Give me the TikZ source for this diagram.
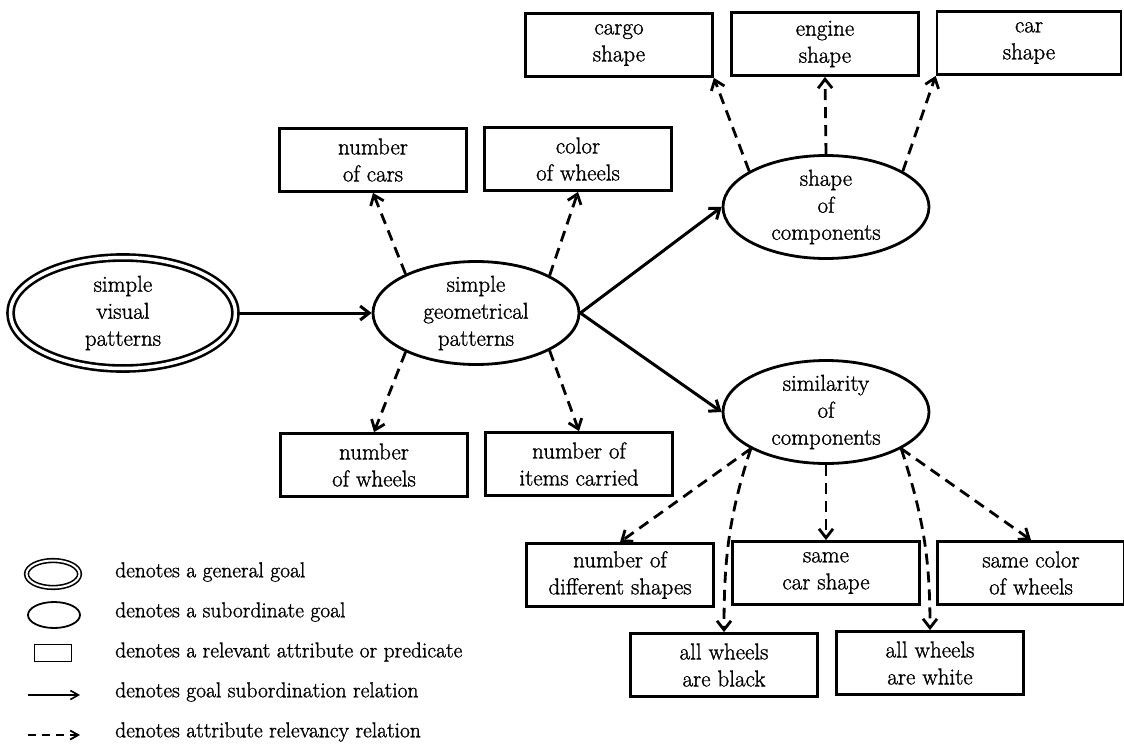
\documentclass[tikz,border=0pt]{standalone}
\usepackage{fontspec}
\newfontfamily\heavyfont{Latin Modern Roman}[FakeBold=1.2]
\usetikzlibrary{shapes.geometric,arrows.meta}
\begin{document}
\begin{tikzpicture}[x=1pt,y=-1pt,
  lbl/.style={font=\heavyfont\fontsize{23}{27}\selectfont, align=center},
  legtext/.style={font=\heavyfont\fontsize{21.5}{27}\selectfont, anchor=west, inner sep=0pt},
  goal/.style={lbl, ellipse, draw, line width=2.8pt, inner sep=-12pt, minimum width=206pt, minimum height=103pt},
  maingoal/.style={lbl, ellipse, draw, line width=2.6pt, double, double distance=3.5pt, inner sep=-12pt, minimum width=225pt, minimum height=111pt},
  attr/.style={lbl, rectangle, draw, line width=2.8pt, minimum width=187pt, minimum height=63pt, inner sep=0pt},
  sub/.style={line width=3pt, -{Straight Barb[length=9pt,width=14pt]}},
  rel/.style={line width=2.8pt, dash pattern=on 11pt off 7pt, -{Straight Barb[length=9pt,width=14pt]}},
]
\useasboundingbox (0,0) rectangle (1124,744);

% goals
\node[maingoal] (svp) at (123,313) {simple\\visual\\patterns};
\node[goal] (geom) at (476,313) {simple\\geometrical\\patterns};
\node[goal] (shape) at (826,207) {shape\\of\\components};
\node[goal] (sim) at (826,412) {similarity\\of\\components};

% attributes
\node[attr] (cars) at (373,160) {number\\of cars};
\node[attr] (color) at (578,159) {color\\of wheels};
\node[attr] (wheels) at (374,465) {number\\of wheels};
\node[attr] (items) at (579,464) {number of\\items carried};
\node[attr] (cargo) at (619,45) {cargo\\shape};
\node[attr] (engine) at (825,44) {engine\\shape};
\node[attr, minimum width=184pt] (car) at (1029,43) {car\\shape};
\node[attr] (diff) at (620,575) {number of\\different shapes};
\node[attr] (samecar) at (826,573) {same\\car shape};
\node[attr] (samecol) at (1031,573) {same color\\of wheels};
\node[attr] (black) at (724,665) {all wheels\\are black};
\node[attr] (white) at (930,663) {all wheels\\are white};

% goal subordination
\draw[sub] (svp.east) -- (geom.west);
\draw[sub] (geom.east) -- (shape.west);
\draw[sub] (geom.east) -- (sim.west);

% attribute relevancy
\draw[rel] (geom.151) -- (cars.south);
\draw[rel] (geom.27) -- (color.south);
\draw[rel] (geom.-151) -- (wheels.north);
\draw[rel] (geom.-27) -- (items.north);
\draw[rel] (shape.155) -- (cargo.south east);
\draw[rel] (shape.north) -- (engine.south);
\draw[rel] (shape.25) -- (car.south west);
\draw[rel] (sim.206) -- (diff.north);
\draw[rel] (sim.206) to[out=-108,in=90] (black.north);
\draw[rel] (sim.south) -- (samecar.north);
\draw[rel] (sim.-26) to[out=-72,in=90] (white.north);
\draw[rel] (sim.-26) -- (samecol.north);

% legend
\node[ellipse, draw, line width=1.6pt, double, double distance=2pt, minimum width=53pt, minimum height=27pt, inner sep=0pt] (lg1) at (53,574) {};
\node[ellipse, draw, line width=1.8pt, minimum width=52pt, minimum height=26pt, inner sep=0pt] (lg2) at (54,615) {};
\node[rectangle, draw, line width=1.8pt, minimum width=37pt, minimum height=17pt, inner sep=0pt] (lg3) at (53,653) {};
\coordinate (la1) at (28,695);
\coordinate (lb1) at (80,695);
\coordinate (la2) at (28,735);
\coordinate (lb2) at (80,735);
\draw[line width=1.6pt, -{Straight Barb[length=8pt,width=9pt]}] (la1) -- (lb1);
\draw[line width=1.8pt, dash pattern=on 8pt off 6pt, -{Straight Barb[length=8pt,width=9pt]}] (la2) -- (lb2);

\node[legtext] (t1) at (115,572) {denotes a general goal};
\node[legtext] (t2) at (115,612) {denotes a subordinate goal};
\node[legtext] (t3) at (115,652) {denotes a relevant attribute or predicate};
\node[legtext] (t4) at (115,692) {denotes goal subordination relation};
\node[legtext] (t5) at (115,732) {denotes attribute relevancy relation};
\end{tikzpicture}
\end{document}
